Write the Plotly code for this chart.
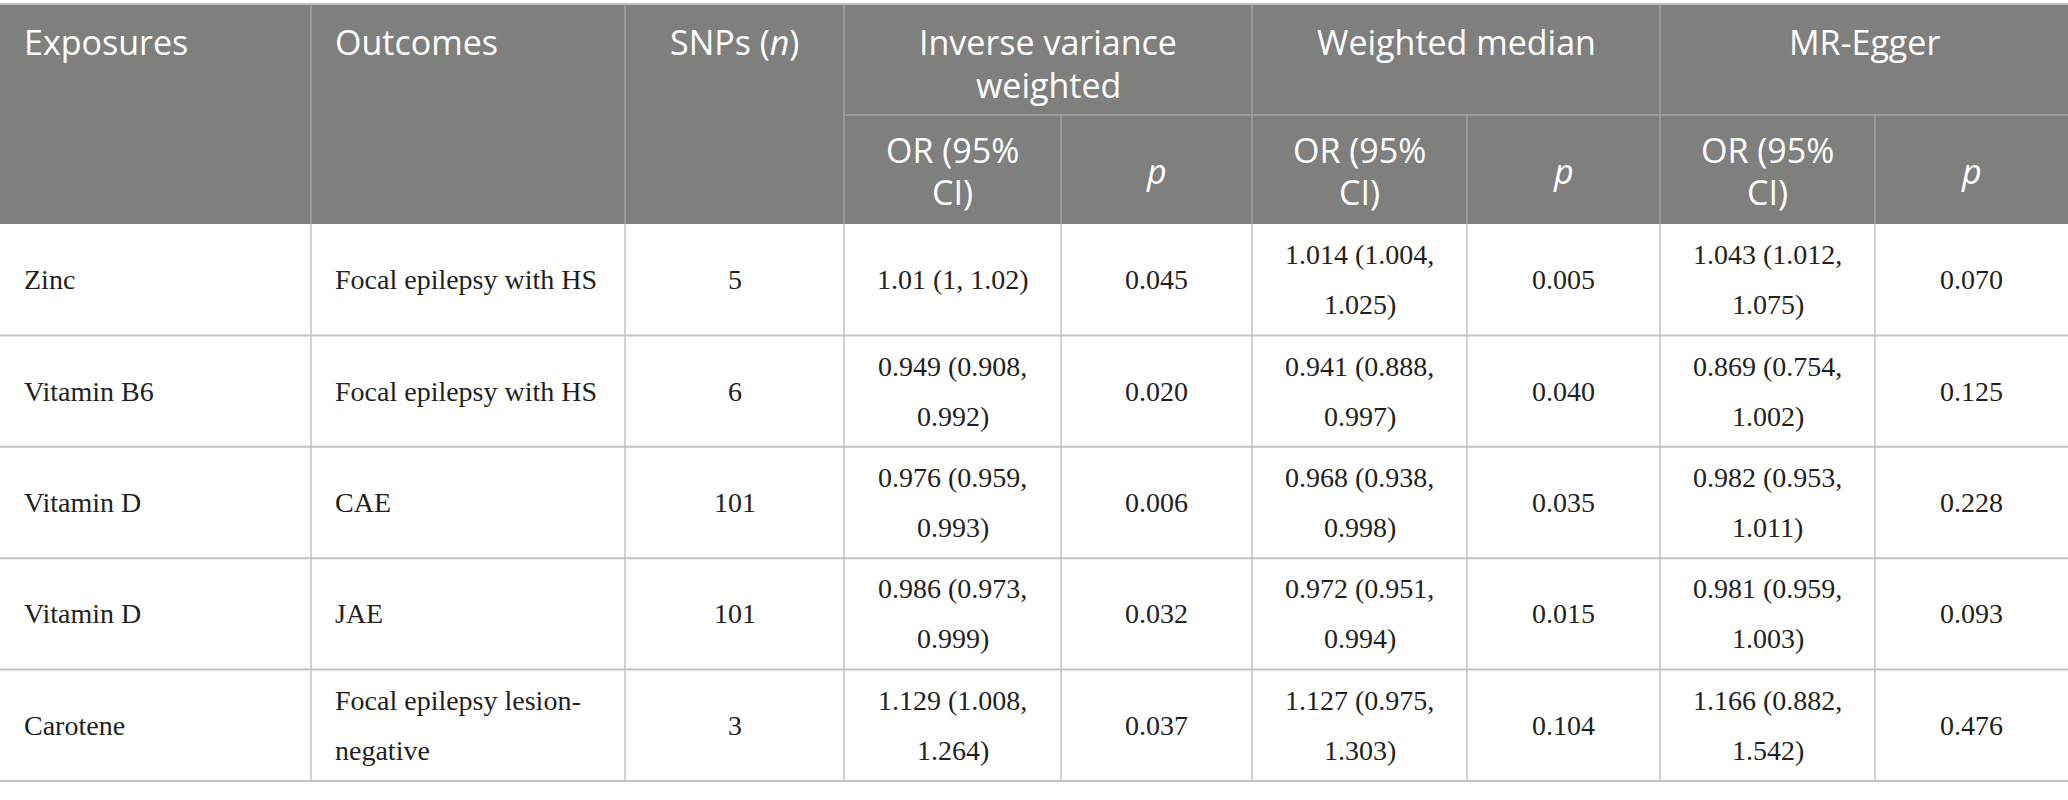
"""
MR results table (IVW / weighted median / MR-Egger) drawn with Plotly shapes + annotations.
"""

import textwrap

import plotly.graph_objects as go

# ---- data ----
exposures = ["Zinc", "Vitamin B6", "Vitamin D", "Vitamin D", "Carotene"]
outcomes = [
    "Focal epilepsy with HS",
    "Focal epilepsy with HS",
    "CAE",
    "JAE",
    "Focal epilepsy lesion-negative",
]
snps = [5, 6, 101, 101, 3]
ivw_or = ["1.01 (1, 1.02)", "0.949 (0.908, 0.992)", "0.976 (0.959, 0.993)",
          "0.986 (0.973, 0.999)", "1.129 (1.008, 1.264)"]
ivw_p = ["0.045", "0.020", "0.006", "0.032", "0.037"]
wm_or = ["1.014 (1.004, 1.025)", "0.941 (0.888, 0.997)", "0.968 (0.938, 0.998)",
         "0.972 (0.951, 0.994)", "1.127 (0.975, 1.303)"]
wm_p = ["0.005", "0.040", "0.035", "0.015", "0.104"]
egger_or = ["1.043 (1.012, 1.075)", "0.869 (0.754, 1.002)", "0.982 (0.953, 1.011)",
            "0.981 (0.959, 1.003)", "1.166 (0.882, 1.542)"]
egger_p = ["0.070", "0.125", "0.228", "0.093", "0.476"]

col_headers = ["Exposures", "Outcomes", "SNPs (<i>n</i>)"]
method_headers = ["Inverse variance weighted", "Weighted median", "MR-Egger"]
sub_headers = ["OR (95% CI)", "<i>p</i>"]

# ---- layout geometry (pixels) ----
W, H = 2068, 800
col_edges = [0, 311, 625, 844, 1061, 1252, 1467, 1660, 1875, 2068]
y_top, y_mid, y_head = 4, 115, 224
row_h = 111.4
pad = 22

HEAD_FILL = "#7f807e"
HEAD_LINE = "#a3a3a3"
BODY_LINE = "#c3c3c3"
TEXT = "#231f20"
HEAD_FONT = dict(family="Open Sans", size=34, color="white")
BODY_FONT = dict(family="Liberation Serif", size=28, color=TEXT)

shapes = []
annotations = []


def line(x0, y0, x1, y1, color, width):
    shapes.append(dict(type="line", xref="x", yref="y", x0=x0, y0=y0, x1=x1, y1=y1,
                       line=dict(color=color, width=width), layer="above"))


def text_block(lines, x, yc, spacing, font, align):
    n = len(lines)
    for i, t in enumerate(lines):
        y = yc + (i - (n - 1) / 2) * spacing
        annotations.append(dict(x=x, y=y, xref="x", yref="y", text=t, showarrow=False,
                                xanchor=align, yanchor="middle", font=font))


def cell_text(text, c0, c1, yc, width, font, align, spacing):
    lines = textwrap.wrap(text, width) if width else [text]
    x = col_edges[c0] + pad if align == "left" else (col_edges[c0] + col_edges[c1]) / 2
    text_block(lines, x, yc, spacing, font, align)


# header background
shapes.append(dict(type="rect", xref="x", yref="y", x0=0, x1=W, y0=y_top, y1=y_head,
                   fillcolor=HEAD_FILL, line_width=0, layer="below"))
line(0, y_top, W, y_top, "#bdbdbd", 2)
line(col_edges[3], y_mid, W, y_mid, HEAD_LINE, 1.5)
for c in [1, 2, 3, 5, 7]:
    line(col_edges[c], y_top, col_edges[c], y_head, HEAD_LINE, 1.5)
for c in [4, 6, 8]:
    line(col_edges[c], y_mid, col_edges[c], y_head, HEAD_LINE, 1.5)

# header text
head_y = 42
hspace = 43
cell_text(col_headers[0], 0, 1, head_y, None, HEAD_FONT, "left", hspace)
cell_text(col_headers[1], 1, 2, head_y, None, HEAD_FONT, "left", hspace)
cell_text(col_headers[2], 2, 3, head_y, None, HEAD_FONT, "center", hspace)
for k, name in enumerate(method_headers):
    c0 = 3 + 2 * k
    lines = textwrap.wrap(name, 17)
    yc = (y_top + y_mid) / 2 + 4 if len(lines) > 1 else head_y
    x = (col_edges[c0] + col_edges[c0 + 2]) / 2
    text_block(lines, x, yc, hspace, HEAD_FONT, "center")
    for j, sub in enumerate(sub_headers):
        lines = textwrap.wrap(sub, 8) if "OR" in sub else [sub]
        x = (col_edges[c0 + j] + col_edges[c0 + j + 1]) / 2
        text_block(lines, x, (y_mid + y_head) / 2 + 1, 42, HEAD_FONT, "center")

# body
columns = [exposures, outcomes, [str(s) for s in snps], ivw_or, ivw_p, wm_or, wm_p,
           egger_or, egger_p]
wraps = [None, 22, None, 14, None, 14, None, 14, None]
aligns = ["left", "left"] + ["center"] * 7
for r in range(len(exposures)):
    ya = y_head + r * row_h
    yb = ya + row_h
    yc = (ya + yb) / 2
    line(0, yb, W, yb, BODY_LINE, 2)
    for c, col in enumerate(columns):
        cell_text(col[r], c, c + 1, yc, wraps[c], BODY_FONT, aligns[c], 50)

y_bottom = y_head + len(exposures) * row_h
for c in range(1, 9):
    line(col_edges[c], y_head, col_edges[c], y_bottom, BODY_LINE, 1.5)

fig = go.Figure()
fig.update_layout(
    width=W,
    height=H,
    margin=dict(l=0, r=0, t=0, b=0),
    paper_bgcolor="white",
    plot_bgcolor="white",
    xaxis=dict(range=[0, W], visible=False, fixedrange=True),
    yaxis=dict(range=[H, 0], visible=False, fixedrange=True),
    shapes=shapes,
    annotations=annotations,
    showlegend=False,
)

# page body has a default 8px margin; drop it so the table sits at the window corner
fig.write_html("out.html", config={"displayModeBar": False},
               post_script="document.body.style.margin='0';")
